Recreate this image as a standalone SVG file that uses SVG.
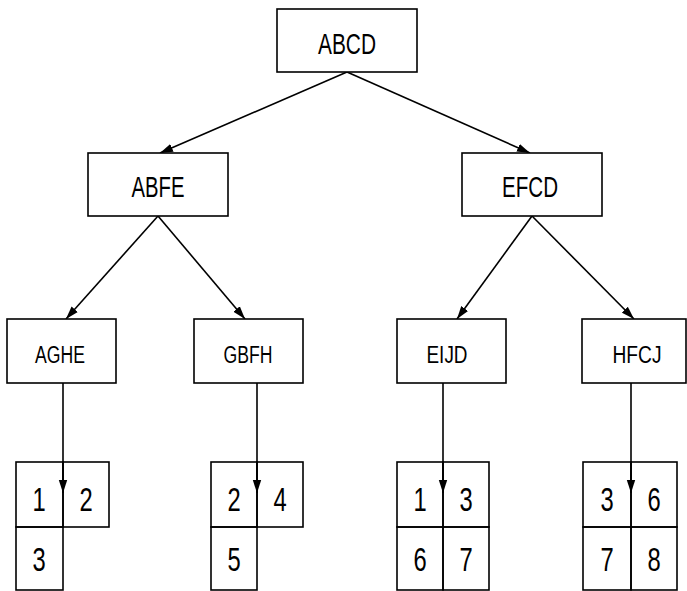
<svg xmlns="http://www.w3.org/2000/svg" width="687" height="591" viewBox="0 0 687 591">
<style>
.box{fill:#fff;stroke:#000;stroke-width:1.6}
.cell{fill:none;stroke:#000;stroke-width:1.6}
.edge{fill:none;stroke:#000;stroke-width:1.6}
.lbl{font-family:"Liberation Sans",Arial,sans-serif;fill:#000;text-anchor:middle}
.big{font-size:29px}
.mid{font-size:23px}
.num{font-size:33px}
</style>
<defs>
<marker id="ah" markerUnits="userSpaceOnUse" markerWidth="14" markerHeight="10" refX="13" refY="5" orient="auto">
<path d="M0,0.8 L13,5 L0,9.2 Z" fill="#000"/>
</marker>
</defs>
<rect width="687" height="591" fill="#fff"/>
<g id="connectors">
<line class="edge" x1="347" y1="72" x2="160" y2="153" marker-end="url(#ah)"/>
<line class="edge" x1="347" y1="72" x2="530" y2="153" marker-end="url(#ah)"/>
<line class="edge" x1="158" y1="216" x2="66" y2="319" marker-end="url(#ah)"/>
<line class="edge" x1="158" y1="216" x2="245" y2="319" marker-end="url(#ah)"/>
<line class="edge" x1="532" y1="216" x2="457" y2="319" marker-end="url(#ah)"/>
<line class="edge" x1="532" y1="216" x2="634" y2="319" marker-end="url(#ah)"/>
<line class="edge" x1="63" y1="383" x2="63" y2="493" marker-end="url(#ah)"/>
<line class="edge" x1="257" y1="383" x2="257" y2="493" marker-end="url(#ah)"/>
<line class="edge" x1="443" y1="383" x2="443" y2="493" marker-end="url(#ah)"/>
<line class="edge" x1="631" y1="383" x2="631" y2="493" marker-end="url(#ah)"/>
</g>
<g id="n-ABCD">
<rect class="box" x="277" y="9" width="140" height="63"/>
<text class="lbl big" x="347" y="54" textLength="58" lengthAdjust="spacingAndGlyphs">ABCD</text>
</g>
<g id="n-ABFE">
<rect class="box" x="88" y="153" width="140" height="63"/>
<text class="lbl big" x="158" y="197" textLength="53" lengthAdjust="spacingAndGlyphs">ABFE</text>
</g>
<g id="n-EFCD">
<rect class="box" x="462" y="153" width="140" height="63"/>
<text class="lbl big" x="530" y="197" textLength="56" lengthAdjust="spacingAndGlyphs">EFCD</text>
</g>
<g id="n-AGHE">
<rect class="box" x="7" y="319" width="109" height="64"/>
<text class="lbl mid" x="60" y="363" textLength="50" lengthAdjust="spacingAndGlyphs">AGHE</text>
</g>
<g id="n-GBFH">
<rect class="box" x="194" y="319" width="109" height="64"/>
<text class="lbl mid" x="248" y="363" textLength="49" lengthAdjust="spacingAndGlyphs">GBFH</text>
</g>
<g id="n-EIJD">
<rect class="box" x="397" y="319" width="109" height="64"/>
<text class="lbl mid" x="447" y="363" textLength="41" lengthAdjust="spacingAndGlyphs">EIJD</text>
</g>
<g id="n-HFCJ">
<rect class="box" x="582" y="319" width="104" height="64"/>
<text class="lbl mid" x="637" y="363" textLength="49" lengthAdjust="spacingAndGlyphs">HFCJ</text>
</g>
<g id="grid-AGHE">
<rect class="cell" x="16" y="462" width="47" height="65"/>
<rect class="cell" x="63" y="462" width="46" height="65"/>
<rect class="cell" x="16" y="527" width="47" height="63"/>
<text class="lbl num" x="39" y="511" transform="translate(39 0) scale(0.72 1) translate(-39 0)">1</text>
<text class="lbl num" x="86" y="511" transform="translate(86 0) scale(0.72 1) translate(-86 0)">2</text>
<text class="lbl num" x="39" y="571" transform="translate(39 0) scale(0.72 1) translate(-39 0)">3</text>
</g>
<g id="grid-GBFH">
<rect class="cell" x="211" y="462" width="46" height="65"/>
<rect class="cell" x="257" y="462" width="46" height="65"/>
<rect class="cell" x="211" y="527" width="46" height="63"/>
<text class="lbl num" x="234" y="511" transform="translate(234 0) scale(0.72 1) translate(-234 0)">2</text>
<text class="lbl num" x="280" y="511" transform="translate(280 0) scale(0.72 1) translate(-280 0)">4</text>
<text class="lbl num" x="234" y="571" transform="translate(234 0) scale(0.72 1) translate(-234 0)">5</text>
</g>
<g id="grid-EIJD">
<rect class="cell" x="397" y="462" width="46" height="65"/>
<rect class="cell" x="443" y="462" width="46" height="65"/>
<rect class="cell" x="397" y="527" width="46" height="63"/>
<rect class="cell" x="443" y="527" width="46" height="63"/>
<text class="lbl num" x="420" y="511" transform="translate(420 0) scale(0.72 1) translate(-420 0)">1</text>
<text class="lbl num" x="466" y="511" transform="translate(466 0) scale(0.72 1) translate(-466 0)">3</text>
<text class="lbl num" x="420" y="571" transform="translate(420 0) scale(0.72 1) translate(-420 0)">6</text>
<text class="lbl num" x="466" y="571" transform="translate(466 0) scale(0.72 1) translate(-466 0)">7</text>
</g>
<g id="grid-HFCJ">
<rect class="cell" x="583" y="462" width="48" height="65"/>
<rect class="cell" x="631" y="462" width="46" height="65"/>
<rect class="cell" x="583" y="527" width="48" height="63"/>
<rect class="cell" x="631" y="527" width="46" height="63"/>
<text class="lbl num" x="607" y="511" transform="translate(607 0) scale(0.72 1) translate(-607 0)">3</text>
<text class="lbl num" x="654" y="511" transform="translate(654 0) scale(0.72 1) translate(-654 0)">6</text>
<text class="lbl num" x="607" y="571" transform="translate(607 0) scale(0.72 1) translate(-607 0)">7</text>
<text class="lbl num" x="654" y="571" transform="translate(654 0) scale(0.72 1) translate(-654 0)">8</text>
</g>
</svg>
